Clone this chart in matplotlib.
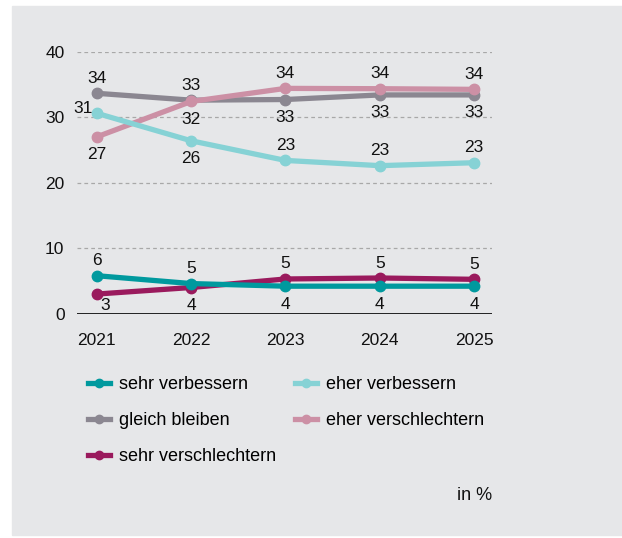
import matplotlib.pyplot as plt
from matplotlib.lines import Line2D
from matplotlib.patches import Rectangle

plt.rcParams['font.family'] = ['Liberation Sans', 'DejaVu Sans']

years = [2021, 2022, 2023, 2024, 2025]

sehr_verbessern = [5.8, 4.6, 4.2, 4.2, 4.2]
eher_verbessern = [30.6, 26.4, 23.4, 22.6, 23.05]
gleich_bleiben = [33.65, 32.6, 32.7, 33.4, 33.4]
eher_verschlechtern = [27.0, 32.4, 34.4, 34.35, 34.25]
sehr_verschlechtern = [3.0, 4.0, 5.3, 5.45, 5.25]

# label placement per point: (dx, dy) in pixels
UP = (0, 15)
DOWN = (0, -18)

series = [
    ("sehr verbessern", sehr_verbessern, "#00999e", [UP, UP, DOWN, DOWN, DOWN]),
    ("gleich bleiben", gleich_bleiben, "#8b8791", [UP, UP, DOWN, DOWN, DOWN]),
    ("sehr verschlechtern", sehr_verschlechtern, "#9a1a5d", [(8, -11), DOWN, UP, UP, UP]),
    ("eher verbessern", eher_verbessern, "#86d2d5", [(-14, 5), DOWN, UP, UP, UP]),
    ("eher verschlechtern", eher_verschlechtern, "#cc90a5", [DOWN, DOWN, UP, UP, UP]),
]
draw_order = [1, 4, 3, 2, 0]

fig = plt.figure(figsize=(6.22, 5.38), dpi=100)
fig.patches.append(Rectangle((12 / 622, 3 / 538), 1 - 12 / 622, 529 / 538,
                             transform=fig.transFigure, color="#e6e7e9", zorder=-10))

ax = fig.add_axes([77 / 622, 1 - 313.7 / 538, 415 / 622, 262 / 538])
ax.set_facecolor("none")
ax.set_zorder(2)
ax.set_xlim(2020.79, 2025.19)
ax.set_ylim(0, 40)

for y in [10, 20, 30, 40]:
    ax.axhline(y, color="#a8a8a8", lw=0.9, ls=(0, (3, 2.5)), zorder=1)
ax.axhline(0, color="black", lw=1.2, zorder=1)

for i in draw_order:
    name, vals, col, offs = series[i]
    ax.plot(years, vals, color=col, lw=3.8, marker="o", ms=7.5,
            solid_capstyle="round", clip_on=False, zorder=3)
    for x, v, off in zip(years, vals, offs):
        ax.annotate(str(int(round(v))), (x, v), xytext=off, textcoords="offset pixels",
                    ha="center", va="center", fontsize=12.5, color="#111111", zorder=4)

for s in ax.spines.values():
    s.set_visible(False)
ax.set_yticks([0, 10, 20, 30, 40])
ax.set_xticks(years)
ax.tick_params(length=0, labelsize=12.5, colors="#111111")
ax.tick_params(axis="y", pad=9)
ax.tick_params(axis="x", pad=14)

handles = [Line2D([], [], color=c, lw=3.8, marker="o", ms=6) for _, _, c, _ in series]
labels = [n for n, _, _, _ in series]
leg = fig.legend(handles, labels, ncol=2, loc="upper left", bbox_to_anchor=(72 / 622, 1 - 360 / 538),
                 frameon=False, fontsize=13, handlelength=1.2, handletextpad=0.5,
                 columnspacing=1.05, labelspacing=1.05)
leg.set_zorder(3)

fig.text(492 / 622, 1 - 496 / 538, "in %", ha="right", va="center", fontsize=13, color="#111111")

fig.savefig("out.png", dpi=100)
